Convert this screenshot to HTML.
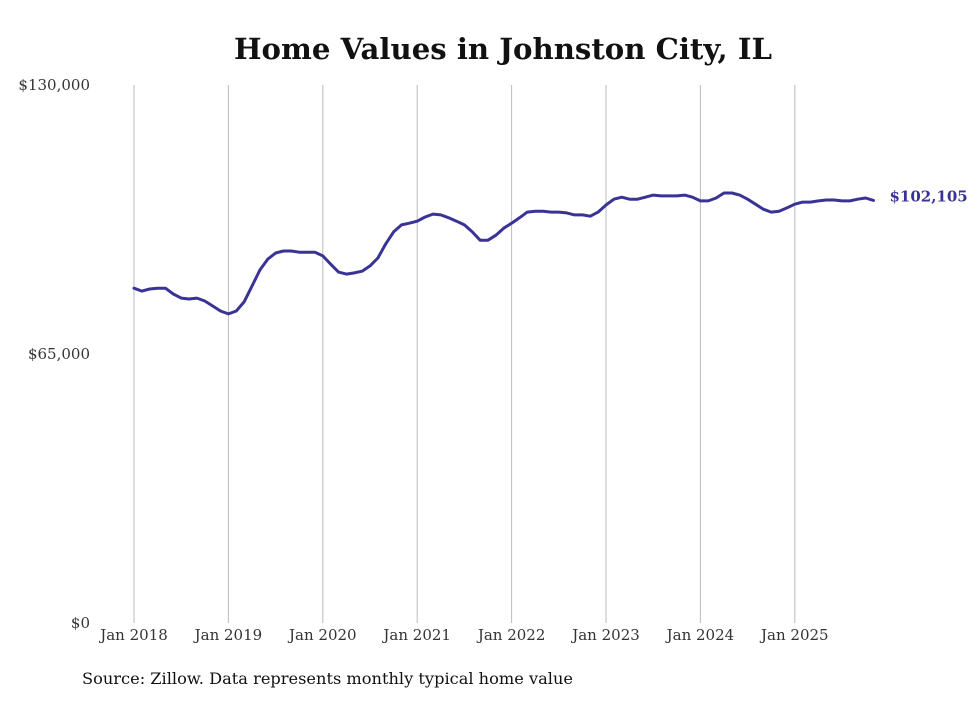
<!DOCTYPE html>
<html><head><meta charset="utf-8"><style>
body{margin:0;background:#fff;}
svg text{font-family:"DejaVu Serif","Liberation Serif",serif;}
</style></head><body>
<svg id="chart" width="980" height="699" viewBox="0 0 980 699">
<text x="503" y="59" text-anchor="middle" font-size="29" font-weight="bold" fill="#111" textLength="538" lengthAdjust="spacingAndGlyphs">Home Values in Johnston City, IL</text>
<g id="grid"></g><g id="yaxis"></g><g id="xaxis"></g>
<path id="line" fill="none" stroke="#3a3396" stroke-width="3" stroke-linejoin="round" stroke-linecap="round"/>
<text id="endlabel" font-size="15" font-weight="bold" fill="#3a3396"></text>
<text x="82" y="684" font-size="16" fill="#111" textLength="491" lengthAdjust="spacingAndGlyphs">Source: Zillow. Data represents monthly typical home value</text>
</svg>
<script>
const yTicks=[0,65000,130000];
const yTickLabels=["$0","$65,000","$130,000"];
const xTickLabels=["Jan 2018","Jan 2019","Jan 2020","Jan 2021","Jan 2022","Jan 2023","Jan 2024","Jan 2025"];
const values2018=[80.9,80.2,80.7,80.9,80.9,79.5,78.5,78.3,78.5,77.8,76.6,75.4];
const values2019=[74.7,75.4,77.6,81.4,85.3,87.9,89.4,89.9,89.9,89.6,89.6,89.6];
const values2020=[88.7,86.7,84.8,84.3,84.6,85.0,86.3,88.2,91.6,94.5,96.2,96.6];
const values2021=[97.1,98.1,98.8,98.6,97.9,97.1,96.2,94.5,92.5,92.5,93.7,95.4];
const values2022=[96.6,97.9,99.3,99.5,99.5,99.3,99.3,99.1,98.6,98.6,98.3,99.3];
const values2023=[101.0,102.4,102.9,102.4,102.4,102.9,103.4,103.2,103.2,103.2,103.4,102.9];
const values2024=[102.0,102.0,102.7,103.9,103.9,103.4,102.4,101.2,100.0,99.3,99.5,100.3];
const values2025=[101.2,101.7,101.7,102.0,102.2,102.2,102.0,102.0,102.4,102.7,102.105];
const values=[].concat(values2018,values2019,values2020,values2021,values2022,values2023,values2024,values2025).map(v=>v*1000);
const lastLabel="$102,105";
const ns="http://www.w3.org/2000/svg";
const x0=134,monthW=94.4/12,yBase=623,yTop=85,yMax=130000;
const xs=m=>x0+m*monthW;
const ys=v=>yBase-(v/yMax)*(yBase-yTop);
const grid=document.getElementById('grid'),ya=document.getElementById('yaxis'),xa=document.getElementById('xaxis');
xTickLabels.forEach((l,i)=>{
  const x=xs(i*12);
  const ln=document.createElementNS(ns,'line');
  ln.setAttribute('x1',x);ln.setAttribute('x2',x);ln.setAttribute('y1',yTop);ln.setAttribute('y2',yBase);
  ln.setAttribute('stroke','#bbbbbb');ln.setAttribute('stroke-width','1');
  
  
  grid.appendChild(ln);
  const t=document.createElementNS(ns,'text');
  t.setAttribute('x',x);t.setAttribute('y',640);t.setAttribute('text-anchor','middle');t.setAttribute('font-size','15');t.setAttribute('fill','#333');
  t.textContent=l;
  
  
  xa.appendChild(t);
});
yTicks.forEach((v,i)=>{
  const t=document.createElementNS(ns,'text');
  t.setAttribute('x',90);t.setAttribute('y',ys(v)+5);t.setAttribute('text-anchor','end');t.setAttribute('font-size','15');t.setAttribute('fill','#333');
  t.textContent=yTickLabels[i];
  
  
  ya.appendChild(t);
});
document.getElementById('line').setAttribute('d',values.map((v,i)=>(i?'L':'M')+xs(i).toFixed(1)+','+ys(v).toFixed(1)).join(''));
const el=document.getElementById('endlabel');
el.setAttribute('x',xs(values.length-1)+16);el.setAttribute('y',ys(values[values.length-1])+1);
el.textContent=lastLabel;
</script>
</body></html>
